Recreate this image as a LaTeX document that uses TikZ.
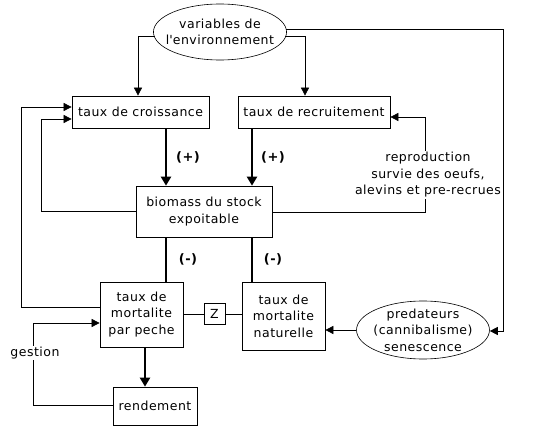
\documentclass[tikz,border=0pt]{standalone}
\usepackage{fontspec}
\setmainfont{DejaVu Sans}[LetterSpace=4]
\usetikzlibrary{shapes.geometric,arrows.meta,calc}
\begin{document}
\begin{tikzpicture}[x=1pt,y=-1pt,
  every node/.style={font=\fontsize{12.5}{16.5}\selectfont},
  box/.style={draw,line width=0.7pt,fill=white,align=center,inner sep=0pt},
  oval/.style={ellipse,draw,line width=0.6pt,fill=white,align=center,inner sep=-7pt},
  lbl/.style={fill=white,align=center,inner sep=1pt},
  thinline/.style={line width=0.6pt},
  tip/.style={-{Triangle[length=8pt,width=8pt]}},
  heavy/.style={line width=2.6pt},
  heavytip/.style={-{Triangle[length=9pt,width=10pt]}},
  sign/.style={font=\fontsize{13}{15}\bfseries}
]
\useasboundingbox (0,0) rectangle (550,441);

% nodes
\node[oval,minimum width=130,minimum height=56] (env) at (220,32) {variables de\\l\textquotesingle environnement};
\node[box,minimum width=137,minimum height=32] (croiss) at (140.5,112) {taux de croissance};
\node[box,minimum width=152,minimum height=32] (recru) at (314,112) {taux de recruitement};
\node[box,minimum width=136,minimum height=51] (bio) at (204,211.5) {biomass du stock\\expoitable};
\node[box,minimum width=83,minimum height=65] (peche) at (141.5,314.5) {taux de\\mortalite\\par peche};
\node[box,minimum width=83,minimum height=68] (nat) at (283.5,316) {taux de\\mortalite\\naturelle};
\node[box,minimum width=21,minimum height=21] (z) at (214.5,314) {Z};
\node[box,minimum width=84,minimum height=38] (rend) at (155,406) {rendement};
\node[oval,minimum width=133,minimum height=58] (pred) at (423,330) {predateurs\\(cannibalisme)\\senescence};

% bend coordinates
\coordinate (e1) at (138,36);
\coordinate (e2) at (305,36);
\coordinate (e3) at (503,29);
\coordinate (e4) at (503,331);
\coordinate (o1) at (21,307);
\coordinate (o2) at (21,107);
\coordinate (i1) at (41,211.5);
\coordinate (i2) at (41,119);
\coordinate (r1) at (425,212);
\coordinate (r2) at (425,117);
\coordinate (g1) at (33,405);
\coordinate (g2) at (33,323);

% environment arrows
\draw[thinline,tip] (env.west |- e1) ++(2,0) -- (e1) -- (e1 |- croiss.north);
\draw[thinline,tip] (env.east |- e2) ++(-2,0) -- (e2) -- (e2 |- recru.north);
\draw[thinline,tip] (env.east |- e3) ++(-1,0) -- (e3) -- (e4) -- (pred.east |- e4);

% feedback loops to croissance
\draw[thinline,tip] (peche.west |- o1) -- (o1) -- (o2) -- (croiss.west |- o2);
\draw[thinline,tip] (bio.west |- i1) -- (i1) -- (i2) -- (croiss.west |- i2);

% feedback to recruitement
\draw[thinline,tip] (bio.east |- r1) -- (r1) -- (r2) -- (recru.east |- r2);
\node[lbl] (repro) at (428,175) {reproduction\\survie des oeufs,\\alevins et pre-recrues};

% gestion loop
\draw[thinline,tip] (rend.west |- g1) -- (g1) -- (g2) -- (peche.west |- g2);
\node[lbl] (gest) at (35,353) {gestion};

% thick arrows
\draw[heavy,heavytip] (croiss.south -| 166,0) -- (bio.north -| 166,0);
\draw[heavy,heavytip] (recru.south -| 252,0) -- (bio.north -| 252,0);
\draw[heavy] (bio.south -| 166,0) -- (peche.north -| 166,0);
\draw[heavy] (bio.south -| 252,0) -- (nat.north -| 252,0);
\draw[heavy,heavytip] (peche.south -| 145,0) -- (rend.north -| 145,0);

\node[sign] (p1) at (188,157) {(+)};
\node[sign] (p2) at (273,157) {(+)};
\node[sign] (m1) at (188,259) {(-)};
\node[sign] (m2) at (273,259) {(-)};

% Z links
\draw[thinline] (peche.east |- z) -- (z.west);
\draw[thinline] (z.east) -- (nat.west |- z);

% predator arrow
\draw[thinline,tip] (pred.west) -- (nat.east |- pred.west);
\end{tikzpicture}
\end{document}
